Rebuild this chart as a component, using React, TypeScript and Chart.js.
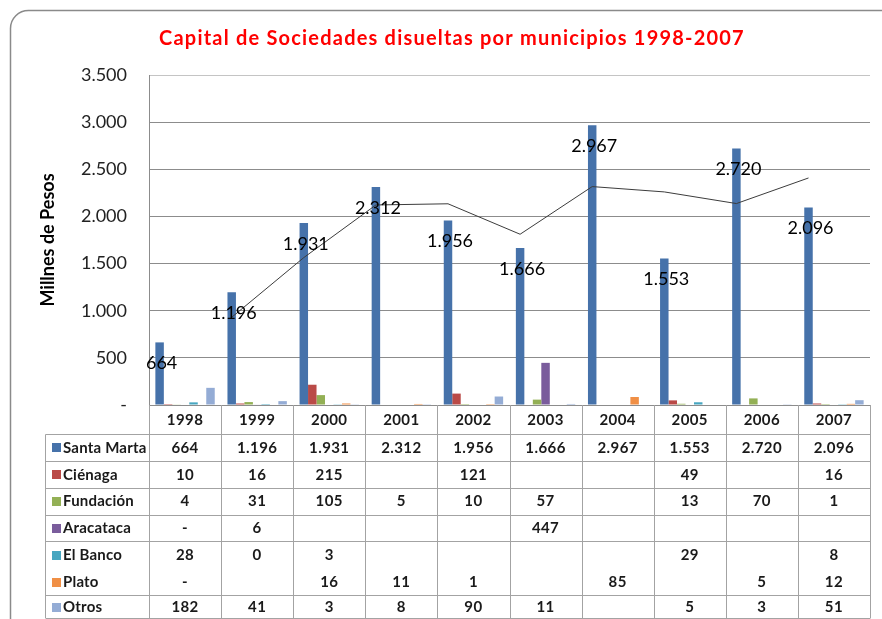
import React, { useEffect, useRef } from "react";
import { Chart, registerables } from "chart.js";

Chart.register(...registerables);

// ---------- data ----------
const years = ["1998", "1999", "2000", "2001", "2002", "2003", "2004", "2005", "2006", "2007"];
const seriesNames = ["Santa Marta", "Ciénaga", "Fundación", "Aracataca", "El Banco", "Plato", "Otros"];
const santaMarta = [664, 1196, 1931, 2312, 1956, 1666, 2967, 1553, 2720, 2096];
const cienaga = [10, 16, 215, null, 121, null, null, 49, null, 16];
const fundacion = [4, 31, 105, 5, 10, 57, null, 13, 70, 1];
const aracataca = [0, 6, null, null, null, 447, null, null, null, null];
const elBanco = [28, 0.4, 3, null, null, null, null, 29, null, 8];
const plato = [0, null, 16, 11, 1, null, 85, null, 5, 12];
const otros = [182, 41, 3, 8, 90, 11, null, 5, 3, 51];
const seriesValues: (number | null)[][] = [santaMarta, cienaga, fundacion, aracataca, elBanco, plato, otros];
const seriesColors = ["#4672AA", "#BA4A47", "#93B055", "#7A5C9C", "#47A6C0", "#F08F45", "#94ACD5"];
const yMin = 0;
const yMax = 3500;
const yStep = 500;
const trendPeriod = 2; // Excel "media móvil" trendline on Santa Marta
const titleText = "Capital de Sociedades disueltas por municipios 1998-2007";
const yTitleText = "Millnes de Pesos";

// ---------- helpers ----------
const fmt = (v: number | null | undefined) => {
  if (v === null || v === undefined) return "";
  if (v === 0) return "-";
  return Math.round(v).toString().replace(/\B(?=(\d{3})+(?!\d))/g, ".");
};

const movingAvg = santaMarta.map((_, i) => {
  if (i < trendPeriod - 1) return null;
  let s = 0;
  for (let k = 0; k < trendPeriod; k++) s += santaMarta[i - k];
  return s / trendPeriod;
});

const CAT_PCT = 7 / 8.5; // Excel gap width 150%
const FONT = "Lato, 'Open Sans', sans-serif";

export default function App() {
  const ref = useRef<HTMLCanvasElement | null>(null);

  useEffect(() => {
    document.body.style.margin = "0";
    const canvas = ref.current;
    if (!canvas) return;

    const framePlugin = {
      id: "frame",
      beforeDraw(chart: any) {
        const ctx = chart.ctx;
        ctx.save();
        ctx.fillStyle = "#ffffff";
        ctx.fillRect(0, 0, chart.width, chart.height);
        ctx.strokeStyle = "#8a8a8a";
        ctx.lineWidth = 1.5;
        ctx.beginPath();
        (ctx as any).roundRect(10.5, 10.5, 890, 700, 18);
        ctx.stroke();
        ctx.restore();
      },
      afterDraw(chart: any) {
        const ctx = chart.ctx;
        ctx.save();
        ctx.fillStyle = "#FF0000";
        ctx.font = `bold 20px ${FONT}`;
        (ctx as any).letterSpacing = "1.2px";
        ctx.textAlign = "center";
        ctx.textBaseline = "middle";
        ctx.fillText(titleText, 452, 39);
        ctx.restore();
      },
    };

    // Excel draws the trendline through the first series' bar centres
    const trendAlignPlugin = {
      id: "trendAlign",
      beforeDatasetsDraw(chart: any) {
        const bars = chart.getDatasetMeta(0).data;
        const lineMeta = chart.getDatasetMeta(seriesNames.length);
        lineMeta.data.forEach((pt: any, i: number) => {
          if (bars[i]) pt.x = bars[i].x;
        });
        if (lineMeta.dataset) lineMeta.dataset._path = undefined;
      },
    };

    const labelsPlugin = {
      id: "barLabels",
      afterDatasetsDraw(chart: any) {
        const ctx = chart.ctx;
        const meta = chart.getDatasetMeta(0);
        ctx.save();
        ctx.fillStyle = "#000";
        ctx.font = `18px ${FONT}`;
        ctx.textAlign = "center";
        ctx.textBaseline = "middle";
        meta.data.forEach((bar: any, i: number) => {
          ctx.fillText(fmt(santaMarta[i]), bar.x + 2, bar.y + 21);
        });
        ctx.restore();
      },
    };

    const tablePlugin = {
      id: "dataTable",
      afterDraw(chart: any) {
        const ctx = chart.ctx;
        const area = chart.chartArea;
        const n = years.length;
        const colW = (area.right - area.left) / n;
        const top = area.bottom;
        const headerH = 29;
        const rowH = 26.85;
        const tableBottom = chart.height - 1;
        const tableLeft = 45;
        const bodyTop = top + headerH;
        const rowTop = (k: number) => (k >= seriesNames.length ? tableBottom : bodyTop + k * rowH);
        const px = (v: number) => Math.round(v) + 0.5;

        ctx.save();
        ctx.strokeStyle = "#a3a3a3";
        ctx.lineWidth = 1;
        ctx.beginPath();
        for (let i = 0; i <= n; i++) {
          const x = px(area.left + i * colW);
          ctx.moveTo(x, top);
          ctx.lineTo(x, tableBottom);
        }
        ctx.moveTo(px(tableLeft), px(bodyTop));
        ctx.lineTo(px(tableLeft), tableBottom);
        for (let k = 0; k <= seriesNames.length; k++) {
          if (k === 5) continue;
          const y = k === seriesNames.length ? px(tableBottom - 0.5) : px(rowTop(k));
          ctx.moveTo(px(tableLeft), y);
          ctx.lineTo(px(area.right), y);
        }
        ctx.stroke();

        ctx.fillStyle = "#1a1a1a";
        ctx.font = `bold 15px ${FONT}`;
        ctx.textBaseline = "middle";
        ctx.textAlign = "center";
        (ctx as any).letterSpacing = "0.4px";
        const xs = chart.scales.x;
        years.forEach((yr, i) => {
          ctx.fillText(yr, xs.getPixelForValue(i), top + headerH / 2 + 1);
        });
        seriesNames.forEach((name, k) => {
          const yc = (rowTop(k) + rowTop(k + 1)) / 2 + 0.5;
          ctx.fillStyle = seriesColors[k];
          ctx.fillRect(52, Math.round(yc - 4.5), 9, 9);
          ctx.fillStyle = "#1a1a1a";
          ctx.textAlign = "left";
          (ctx as any).letterSpacing = "0.2px";
          ctx.fillText(name, 63, yc);
          (ctx as any).letterSpacing = "0.4px";
          ctx.textAlign = "center";
          seriesValues[k].forEach((v, i) => {
            const t = fmt(v);
            if (t) ctx.fillText(t, xs.getPixelForValue(i), yc);
          });
        });
        ctx.restore();
      },
    };

    const barDatasets = seriesNames.map((name, k) => ({
      type: "bar" as const,
      label: name,
      data: seriesValues[k],
      backgroundColor: seriesColors[k],
      borderWidth: 0,
      categoryPercentage: CAT_PCT,
      barPercentage: 1,
      order: 1,
    }));

    const lineDataset = {
      type: "line" as const,
      label: "2 per. media móvil (Santa Marta)",
      data: movingAvg,
      borderColor: "#3c3c3c",
      borderWidth: 1,
      pointRadius: 0,
      tension: 0,
      fill: false,
      spanGaps: false,
      order: 0,
    };

    const chart = new Chart(canvas, {
      type: "bar",
      data: {
        labels: years,
        datasets: [...barDatasets, lineDataset] as any,
      },
      options: {
        animation: false,
        responsive: false,
        events: [],
        layout: { padding: { top: 75, bottom: 214, left: 0, right: 12 } },
        plugins: {
          legend: { display: false },
          title: { display: false },
          tooltip: { enabled: false },
        },
        scales: {
          x: { type: "category", display: false, offset: true },
          y: {
            min: yMin,
            max: yMax,
            ticks: {
              stepSize: yStep,
              color: "#222",
              padding: 22,
              font: { family: FONT, size: 18 },
              callback: (v: any) => fmt(Number(v)),
            },
            grid: {
              drawTicks: false,
              color: (c: any) => (c.tick && c.tick.value === yMax ? "#c4c4c4" : "#8c8c8c"),
              lineWidth: 1,
            },
            border: { display: true, color: "#8c8c8c", width: 1 },
            title: {
              display: true,
              text: yTitleText,
              color: "#000",
              font: { family: FONT, size: 18, weight: "bold" },
              padding: { top: 37, bottom: 0 },
            },
            afterFit: (scale: any) => {
              scale.width = 149;
              scale.paddingTop = 0;
              scale.paddingBottom = 0;
            },
          },
        },
      } as any,
      plugins: [framePlugin, trendAlignPlugin, labelsPlugin, tablePlugin],
    });

    return () => chart.destroy();
  }, []);

  return <canvas ref={ref} width={882} height={619} style={{ display: "block" }} />;
}
